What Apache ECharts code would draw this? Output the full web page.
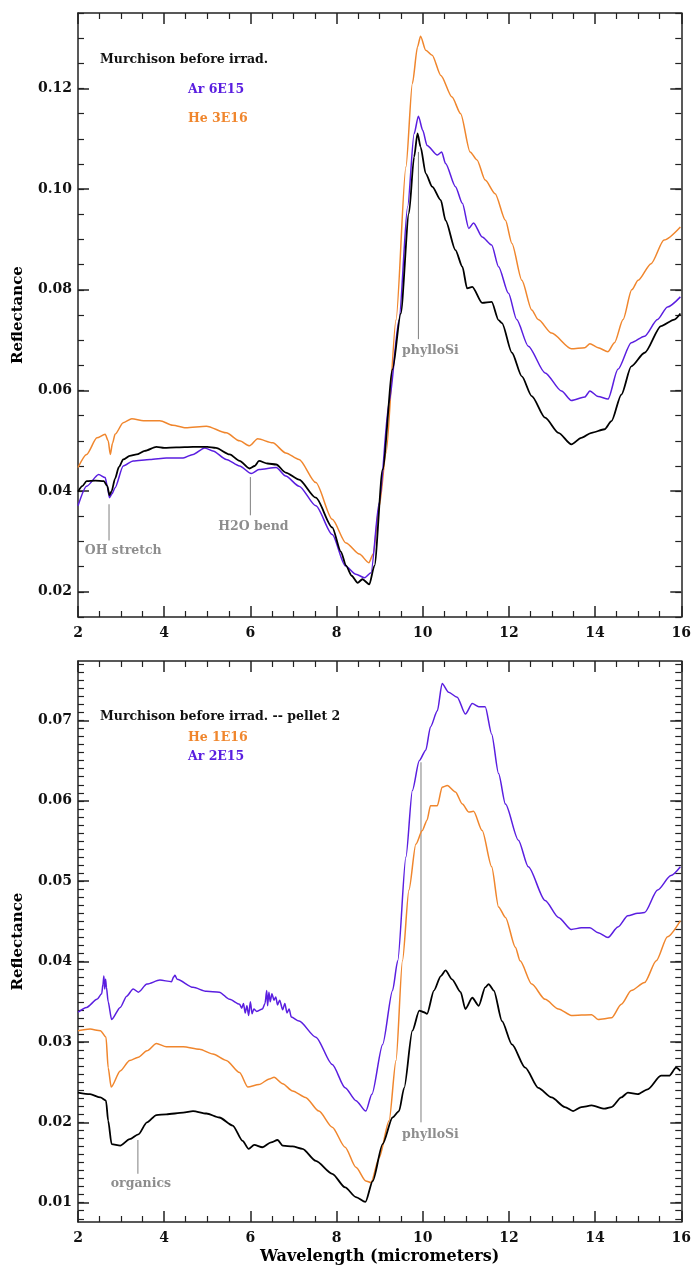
<!DOCTYPE html>
<html>
<head>
<meta charset="utf-8">
<script src="https://cdn.jsdelivr.net/npm/echarts@6/dist/echarts.min.js"></script>
<style>
  html, body { margin: 0; padding: 0; background: #fff; }
  #chart { width: 694px; height: 1268px; }
</style>
</head>
<body>
<div id="chart"></div>
<script>
// wavelength (micrometers), reflectance
var topBlack = [[2.0,0.0399],[2.1,0.0410],[2.2,0.0420],[2.4,0.0421],[2.6,0.0420],[2.68,0.0410],[2.73,0.0392],[2.78,0.0400],[2.86,0.0425],[2.95,0.0448],[3.05,0.0463],[3.2,0.0470],[3.36,0.0473],[3.55,0.0480],[3.82,0.0488],[4.0,0.0486],[4.28,0.0487],[4.67,0.0488],[5.0,0.0488],[5.2,0.0486],[5.52,0.0473],[5.75,0.0460],[5.98,0.0445],[6.1,0.0450],[6.2,0.0460],[6.4,0.0455],[6.6,0.0453],[6.82,0.0437],[7.13,0.0423],[7.52,0.0387],[7.9,0.0328],[8.1,0.0280],[8.22,0.0252],[8.35,0.0232],[8.49,0.0218],[8.6,0.0225],[8.76,0.0215],[8.88,0.0252],[9.07,0.0443],[9.3,0.0642],[9.49,0.0753],[9.68,0.0952],[9.8,0.1064],[9.88,0.1111],[9.95,0.1084],[10.07,0.1031],[10.22,0.1005],[10.42,0.0978],[10.53,0.0938],[10.76,0.0879],[10.92,0.0846],[11.03,0.0803],[11.15,0.0806],[11.38,0.0774],[11.6,0.0776],[11.76,0.0740],[11.84,0.0734],[12.07,0.0675],[12.3,0.0628],[12.53,0.0589],[12.84,0.0546],[13.15,0.0516],[13.45,0.0493],[13.68,0.0506],[13.92,0.0516],[14.22,0.0523],[14.38,0.0539],[14.61,0.0592],[14.84,0.0648],[15.15,0.0675],[15.53,0.0728],[15.84,0.0741],[15.98,0.0753]];
var topAr = [[2.0,0.0371],[2.2,0.0410],[2.48,0.0433],[2.63,0.0427],[2.68,0.0410],[2.73,0.0387],[2.79,0.0395],[2.86,0.0407],[3.05,0.0450],[3.28,0.0460],[3.67,0.0463],[4.05,0.0466],[4.44,0.0466],[4.67,0.0473],[4.94,0.0486],[5.13,0.0480],[5.44,0.0463],[5.75,0.0450],[6.02,0.0435],[6.2,0.0443],[6.6,0.0447],[6.82,0.0430],[7.13,0.0410],[7.52,0.0371],[7.9,0.0314],[8.2,0.0252],[8.45,0.0235],[8.65,0.0228],[8.8,0.0238],[8.99,0.0377],[9.22,0.0576],[9.45,0.0740],[9.65,0.0965],[9.8,0.1110],[9.9,0.1145],[10.0,0.1117],[10.1,0.1087],[10.34,0.1068],[10.44,0.1074],[10.53,0.1051],[10.76,0.1005],[10.92,0.0972],[11.07,0.0922],[11.18,0.0933],[11.38,0.0905],[11.6,0.0889],[11.76,0.0846],[11.99,0.0793],[12.18,0.0741],[12.45,0.0688],[12.84,0.0635],[13.22,0.0599],[13.45,0.0580],[13.76,0.0587],[13.88,0.0599],[14.07,0.0588],[14.3,0.0583],[14.53,0.0642],[14.84,0.0695],[15.15,0.0708],[15.45,0.0741],[15.68,0.0766],[15.98,0.0786]];
var topHe = [[2.0,0.0447],[2.2,0.0473],[2.44,0.0506],[2.63,0.0513],[2.7,0.0500],[2.75,0.0473],[2.8,0.0495],[2.86,0.0513],[3.05,0.0536],[3.25,0.0544],[3.52,0.0540],[3.9,0.0540],[4.2,0.0531],[4.5,0.0526],[4.98,0.0529],[5.44,0.0516],[5.75,0.0500],[5.98,0.0490],[6.17,0.0504],[6.52,0.0496],[6.82,0.0476],[7.13,0.0463],[7.52,0.0417],[7.9,0.0344],[8.22,0.0297],[8.53,0.0275],[8.75,0.0258],[8.85,0.0275],[8.99,0.0370],[9.15,0.0476],[9.38,0.0740],[9.61,0.1044],[9.76,0.1210],[9.88,0.1283],[9.95,0.1304],[10.07,0.1276],[10.22,0.1266],[10.42,0.1226],[10.68,0.1183],[10.88,0.1150],[11.1,0.1074],[11.26,0.1058],[11.45,0.1018],[11.68,0.0991],[11.92,0.0938],[12.07,0.0892],[12.3,0.0819],[12.53,0.0760],[12.68,0.0741],[12.99,0.0714],[13.45,0.0683],[13.76,0.0685],[13.88,0.0693],[14.07,0.0685],[14.3,0.0677],[14.45,0.0695],[14.65,0.0741],[14.85,0.0800],[15.0,0.0819],[15.3,0.0852],[15.6,0.0899],[15.98,0.0925]];

var botBlack = [[2.0,0.0237],[2.28,0.0235],[2.52,0.0231],[2.65,0.0227],[2.7,0.0202],[2.78,0.0173],[2.98,0.0171],[3.2,0.0179],[3.4,0.0185],[3.6,0.0200],[3.82,0.0209],[4.05,0.0210],[4.44,0.0212],[4.67,0.0214],[4.98,0.0211],[5.28,0.0206],[5.59,0.0196],[5.82,0.0177],[5.96,0.0167],[6.09,0.0172],[6.28,0.0169],[6.48,0.0175],[6.63,0.0178],[6.75,0.0171],[6.98,0.0170],[7.21,0.0167],[7.52,0.0152],[7.9,0.0136],[8.2,0.0119],[8.45,0.0107],[8.67,0.0101],[8.84,0.0127],[9.07,0.0173],[9.3,0.0206],[9.45,0.0214],[9.57,0.0243],[9.76,0.0314],[9.92,0.0339],[10.03,0.0337],[10.1,0.0335],[10.26,0.0364],[10.42,0.0382],[10.53,0.0389],[10.68,0.0378],[10.88,0.0362],[10.99,0.0341],[11.15,0.0355],[11.3,0.0345],[11.45,0.0368],[11.53,0.0372],[11.65,0.0364],[11.84,0.0326],[12.07,0.0297],[12.38,0.0268],[12.68,0.0243],[12.99,0.0231],[13.3,0.0219],[13.49,0.0214],[13.68,0.0219],[13.92,0.0221],[14.22,0.0217],[14.38,0.0219],[14.61,0.0231],[14.76,0.0237],[14.99,0.0235],[15.22,0.0241],[15.53,0.0258],[15.72,0.0258],[15.88,0.0268],[15.98,0.0264]];
var botHe = [[2.0,0.0314],[2.28,0.0316],[2.52,0.0314],[2.65,0.0306],[2.7,0.0268],[2.77,0.0244],[2.98,0.0264],[3.2,0.0277],[3.4,0.0281],[3.6,0.0289],[3.82,0.0298],[4.05,0.0294],[4.44,0.0294],[4.82,0.0291],[5.13,0.0285],[5.44,0.0277],[5.75,0.0262],[5.94,0.0244],[6.2,0.0247],[6.44,0.0254],[6.55,0.0256],[6.75,0.0248],[6.98,0.0239],[7.28,0.0231],[7.59,0.0214],[7.9,0.0194],[8.2,0.0169],[8.45,0.0144],[8.68,0.0127],[8.8,0.0125],[8.99,0.0156],[9.22,0.0202],[9.38,0.0277],[9.53,0.0401],[9.68,0.0489],[9.84,0.0546],[9.99,0.0563],[10.1,0.0576],[10.18,0.0594],[10.34,0.0594],[10.45,0.0617],[10.57,0.0619],[10.76,0.0611],[10.92,0.0596],[11.07,0.0586],[11.18,0.0587],[11.38,0.0563],[11.6,0.0518],[11.76,0.0468],[11.92,0.0455],[12.15,0.0418],[12.26,0.0401],[12.53,0.0372],[12.84,0.0353],[13.15,0.0341],[13.45,0.0333],[13.92,0.0334],[14.07,0.0328],[14.38,0.0330],[14.61,0.0347],[14.84,0.0364],[15.15,0.0374],[15.42,0.0401],[15.68,0.0431],[15.98,0.0451]];
var botAr = [[2.0,0.0337],[2.2,0.0343],[2.44,0.0353],[2.55,0.0360],[2.58,0.0372],[2.6,0.0382],[2.62,0.0366],[2.64,0.0378],[2.66,0.0368],[2.7,0.0350],[2.78,0.0328],[2.98,0.0343],[3.13,0.0357],[3.28,0.0366],[3.4,0.0362],[3.6,0.0372],[3.9,0.0377],[4.17,0.0375],[4.22,0.0381],[4.25,0.0383],[4.3,0.0378],[4.67,0.0368],[4.98,0.0363],[5.28,0.0362],[5.52,0.0353],[5.75,0.0347],[5.8,0.0342],[5.84,0.0348],[5.88,0.0336],[5.92,0.0345],[5.96,0.0333],[6.0,0.0350],[6.04,0.0335],[6.08,0.0341],[6.15,0.0338],[6.28,0.0341],[6.34,0.0348],[6.38,0.0364],[6.4,0.0345],[6.43,0.0362],[6.46,0.0350],[6.5,0.0360],[6.55,0.0352],[6.59,0.0356],[6.63,0.0346],[6.68,0.0352],[6.75,0.0340],[6.8,0.0348],[6.85,0.0336],[6.9,0.0341],[6.95,0.0331],[7.13,0.0326],[7.52,0.0306],[7.9,0.0272],[8.2,0.0243],[8.45,0.0227],[8.68,0.0214],[8.82,0.0235],[9.07,0.0297],[9.3,0.0364],[9.42,0.0401],[9.61,0.0530],[9.76,0.0613],[9.92,0.0650],[10.07,0.0663],[10.18,0.0692],[10.34,0.0712],[10.45,0.0746],[10.6,0.0735],[10.8,0.0729],[10.99,0.0708],[11.15,0.0721],[11.3,0.0717],[11.45,0.0717],[11.6,0.0683],[11.76,0.0634],[11.92,0.0596],[12.22,0.0551],[12.45,0.0518],[12.84,0.0476],[13.15,0.0455],[13.45,0.0440],[13.68,0.0442],[13.88,0.0442],[14.07,0.0436],[14.3,0.0430],[14.53,0.0443],[14.76,0.0457],[14.99,0.0460],[15.15,0.0461],[15.45,0.0489],[15.76,0.0507],[15.98,0.0518]];

var xTicks = [2, 4, 6, 8, 10, 12, 14, 16];
var topYTicks = [0.02, 0.04, 0.06, 0.08, 0.10, 0.12];
var botYTicks = [0.01, 0.02, 0.03, 0.04, 0.05, 0.06, 0.07];

// feature markers: [label, x, yFrom, yTo, labelX, labelY]
var topMarks = [['phylloSi', 9.9, 0.1074, 0.0702, 10.18, 0.0678],
                ['OH stretch', 2.72, 0.0374, 0.0302, 3.05, 0.0281],
                ['H2O bend', 6.0, 0.0428, 0.0352, 6.07, 0.0329]];
var botMarks = [['phylloSi', 9.96, 0.0648, 0.0200, 10.18, 0.0184],
                ['organics', 3.39, 0.0178, 0.0136, 3.46, 0.0124]];

var PURPLE = '#5a1ee0', ORANGE = '#f0862d', GRAY = '#7f7f7f';
var FONT = 'DejaVu Serif';

var myChart = echarts.init(document.getElementById('chart'));

function minorVals(lo, hi, step) {
    var out = [];
    for (var k = Math.ceil(lo / step - 1e-9); k * step <= hi + 1e-9; k++) out.push(+(k * step).toFixed(4));
    return out;
}

function xAx(grid, pos, labels, name) {
    return {
        type: 'value', gridIndex: grid, position: pos, min: xTicks[0], max: xTicks[xTicks.length - 1], interval: 2,
        name: name || '', nameLocation: 'middle', nameGap: 27,
        nameTextStyle: { fontFamily: FONT, fontWeight: 'bold', fontSize: 16, color: '#000' },
        axisLine: { show: true, onZero: false, lineStyle: { color: '#222', width: 1.5 } },
        axisTick: { show: true, inside: true, length: 11, lineStyle: { color: '#222', width: 1.5 } },
        minorTick: { show: true, splitNumber: 4, length: 6, lineStyle: { color: '#222', width: 1.2 } },
        axisLabel: { show: labels, margin: 9, fontFamily: FONT, fontWeight: 'bold', fontSize: 14, color: '#111' },
        splitLine: { show: false }
    };
}

function yAx(grid, pos, lo, hi, major, minorStep, isMajor, labels, name) {
    return {
        type: 'value', gridIndex: grid, position: pos, min: lo, max: hi, offset: 0,
        name: name || '', nameLocation: 'middle', nameGap: 52, nameRotate: 90,
        nameTextStyle: { fontFamily: FONT, fontWeight: 'bold', fontSize: 15, color: '#000' },
        axisLine: { show: isMajor, onZero: false, lineStyle: { color: '#222', width: 1.5 } },
        axisTick: { show: true, inside: true, length: isMajor ? 11 : 6,
            customValues: isMajor ? major : minorVals(lo, hi, minorStep),
            lineStyle: { color: '#222', width: isMajor ? 1.5 : 1.2 } },
        axisLabel: { show: labels, customValues: major, margin: 6,
            formatter: function (v) { return v.toFixed(2); },
            fontFamily: FONT, fontWeight: 'bold', fontSize: 14, color: '#111' },
        splitLine: { show: false }
    };
}

function curve(data, color, w, xi, yi, z) {
    return { type: 'line', data: data, xAxisIndex: xi, yAxisIndex: yi, showSymbol: false, z: z,
        smooth: 0.25, smoothMonotone: 'x',
        lineStyle: { color: color, width: w }, animation: false };
}

function markSeries(marks, xi, yi) {
    var out = [];
    marks.forEach(function (m) {
        out.push({ type: 'line', data: [[m[1], m[2]], [m[1], m[3]]], xAxisIndex: xi, yAxisIndex: yi,
            showSymbol: false, z: 1, lineStyle: { color: GRAY, width: 1 }, animation: false });
        out.push({ type: 'scatter', data: [[m[4], m[5]]], xAxisIndex: xi, yAxisIndex: yi, symbolSize: 0,
            animation: false,
            label: { show: true, position: 'inside', formatter: m[0], fontFamily: FONT, fontWeight: 'bold',
                fontSize: 12.5, color: '#707070' } });
    });
    return out;
}

function txt(s, left, top, color) {
    return { text: s, left: left, top: top, padding: 0,
        textStyle: { fontFamily: FONT, fontWeight: 'bold', fontSize: 12.5, color: color } };
}

var option = {
    backgroundColor: '#fff',
    animation: false,
    title: [
        txt('Murchison before irrad.', 100, 53, '#111'),
        txt('Ar 6E15', 188, 83, PURPLE),
        txt('He 3E16', 188, 112, ORANGE),
        txt('Murchison before irrad. -- pellet 2', 100, 710, '#111'),
        txt('He 1E16', 188, 731, ORANGE),
        txt('Ar 2E15', 188, 750, PURPLE)
    ],
    grid: [
        { left: 78, top: 13, width: 606, height: 604 },
        { left: 78, top: 661, width: 606, height: 561 }
    ],
    xAxis: [
        xAx(0, 'bottom', true), xAx(0, 'top', false),
        xAx(1, 'bottom', true, 'Wavelength (micrometers)'), xAx(1, 'top', false)
    ],
    yAxis: [
        yAx(0, 'left', 0.015, 0.135, topYTicks, 0.005, true, true, 'Reflectance'),
        yAx(0, 'left', 0.015, 0.135, topYTicks, 0.005, false, false),
        yAx(0, 'right', 0.015, 0.135, topYTicks, 0.005, true, false),
        yAx(0, 'right', 0.015, 0.135, topYTicks, 0.005, false, false),
        yAx(1, 'left', 0.0076, 0.0774, botYTicks, 0.001, true, true, 'Reflectance'),
        yAx(1, 'left', 0.0076, 0.0774, botYTicks, 0.001, false, false),
        yAx(1, 'right', 0.0076, 0.0774, botYTicks, 0.001, true, false),
        yAx(1, 'right', 0.0076, 0.0774, botYTicks, 0.001, false, false)
    ],
    series: [
        curve(topHe, ORANGE, 1.5, 0, 0, 2),
        curve(topAr, PURPLE, 1.5, 0, 0, 3),
        curve(topBlack, '#000', 1.8, 0, 0, 4),
        curve(botAr, PURPLE, 1.5, 2, 4, 2),
        curve(botHe, ORANGE, 1.5, 2, 4, 3),
        curve(botBlack, '#000', 1.8, 2, 4, 4)
    ].concat(markSeries(topMarks, 0, 0)).concat(markSeries(botMarks, 2, 4))
};

myChart.setOption(option);
</script>
</body>
</html>
